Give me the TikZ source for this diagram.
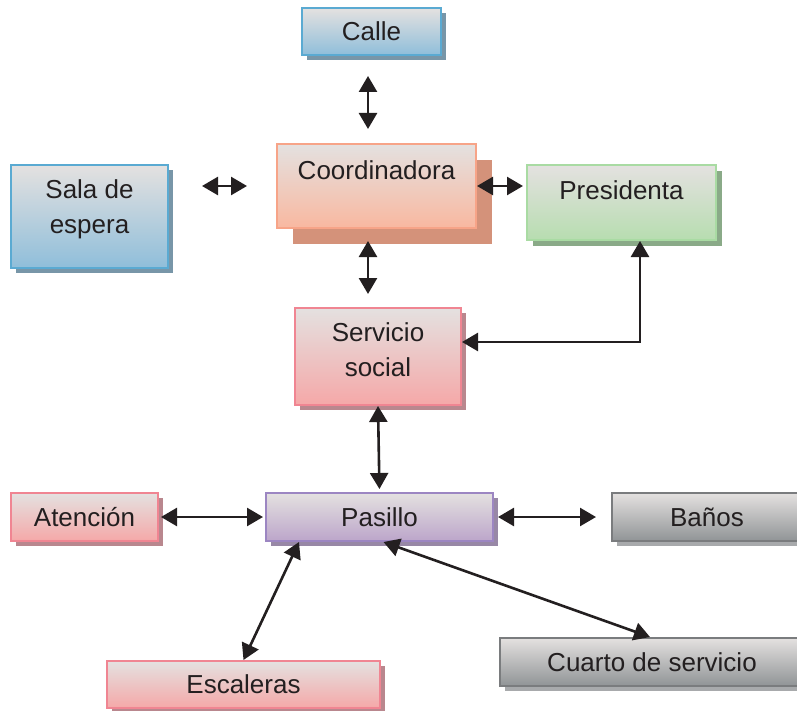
\documentclass[tikz,border=0pt]{standalone}
\usepackage{fontspec}
\setmainfont{Liberation Sans}
\usepackage{tikz}
\usetikzlibrary{calc,shapes,positioning,shadows}
\usetikzlibrary{arrows.meta}
\tikzset{>={Triangle[width=9pt,length=8pt]}}

\definecolor{topgray}{HTML}{E4E1E0}
\definecolor{txt}{HTML}{231F20}
\definecolor{bluebd}{HTML}{5AAAD2}
\definecolor{bluebt}{HTML}{8FBEDA}
\definecolor{bluesh}{HTML}{7896A8}
\definecolor{orgbd}{HTML}{F7A488}
\definecolor{orgbt}{HTML}{F9B8A0}
\definecolor{orgsh}{HTML}{D4927A}
\definecolor{grnbd}{HTML}{A9DBA3}
\definecolor{grnbt}{HTML}{B7DDB0}
\definecolor{grnsh}{HTML}{8AAA88}
\definecolor{redbd}{HTML}{F08592}
\definecolor{redbt}{HTML}{F5A8A8}
\definecolor{redsh}{HTML}{B9878E}
\definecolor{purbd}{HTML}{9C86C2}
\definecolor{purbt}{HTML}{BCA5CA}
\definecolor{pursh}{HTML}{9888A6}
\definecolor{grybd}{HTML}{7A7C7E}
\definecolor{grybt}{HTML}{909496}
\definecolor{grysh}{HTML}{A8AAAC}

\begin{document}
\begin{tikzpicture}[x=0.5pt, y=-0.5pt]
          \tikzstyle{box} = [rectangle, line width=1pt, inner sep=0pt, align=center, text=txt, font=\fontsize{13}{17.5}\selectfont]
          \tikzstyle{bluebox} = [box, draw=bluebd, top color=topgray, bottom color=bluebt, drop shadow={shadow xshift=2.5pt, shadow yshift=-2.5pt, fill=bluesh, opacity=1}]
          \tikzstyle{orgbox} = [box, draw=orgbd, top color=topgray, bottom color=orgbt, drop shadow={shadow xshift=8pt, shadow yshift=-8pt, fill=orgsh, opacity=1}]
          \tikzstyle{grnbox} = [box, draw=grnbd, top color=topgray, bottom color=grnbt, drop shadow={shadow xshift=3pt, shadow yshift=-3pt, fill=grnsh, opacity=1}]
          \tikzstyle{redbox} = [box, draw=redbd, top color=topgray, bottom color=redbt, drop shadow={shadow xshift=2.5pt, shadow yshift=-2.5pt, fill=redsh, opacity=1}]
          \tikzstyle{purbox} = [box, draw=purbd, top color=topgray, bottom color=purbt, drop shadow={shadow xshift=2.5pt, shadow yshift=-2.5pt, fill=pursh, opacity=1}]
          \tikzstyle{grybox} = [box, draw=grybd, top color=topgray, bottom color=grybt, drop shadow={shadow xshift=2.5pt, shadow yshift=-2.5pt, fill=grysh, opacity=1}]
          \tikzstyle{link} = [<->, line width=1.3pt, txt]
          \useasboundingbox (0,0) rectangle (797,711);

          \node[bluebox, minimum width=69.5pt, minimum height=23.5pt] (calle) at (371.5, 31.5) {Calle};
          \node[bluebox, minimum width=78.5pt, minimum height=51.5pt] (sala) at (89.5, 216.5) {Sala de\\espera\\[-13.25pt]\strut};
          \node[orgbox, minimum width=99.5pt, minimum height=42pt] (coord) at (376.5, 186) {Coordinadora\\[-6.75pt]\strut};
          \node[grnbox, minimum width=94.5pt, minimum height=37.5pt, text depth=12.5pt] (pres) at (621.5, 202.5) {Presidenta};
          \node[redbox, minimum width=83pt, minimum height=48.5pt] (serv) at (378, 356.5) {Servicio\\social\\[-16.25pt]\strut};
          \node[redbox, minimum width=73.5pt, minimum height=24pt] (aten) at (84.5, 517) {Atenci\'on};
          \node[purbox, minimum width=113.5pt, minimum height=24pt] (pas) at (379.5, 517) {Pasillo};
          \node[grybox, minimum width=95pt, minimum height=24pt] (banos) at (707, 517) {Ba\~nos};
          \node[redbox, minimum width=136.5pt, minimum height=23.5pt] (esc) at (243.5, 684.5) {Escaleras};
          \node[grybox, minimum width=152pt, minimum height=24pt] (cuarto) at (652, 662) {Cuarto de servicio};

          \draw[link, shorten <=10pt, shorten >=7pt] ([xshift=-1.75pt]calle.south) -- ([xshift=-1.75pt]calle.south |- coord.north);
          \draw[link, shorten <=16.5pt, shorten >=14.5pt] (sala.east |- coord.west) -- (coord.west);
          \draw[link, shorten >=1.5pt] (coord.east) -- (coord.east -| pres.west);
          \draw[link, shorten <=6pt, shorten >=6.5pt] ([xshift=-4.25pt]coord.south) -- ([xshift=-4.25pt]coord.south |- serv.north);
          \draw[link] ([yshift=7.25pt]serv.east) -| ([xshift=9.25pt]pres.south);
          \draw[link, shorten >=1.5pt] (serv.south) -- (pas.north);
          \draw[link, shorten <=1pt, shorten >=1pt] (aten) -- (pas);
          \draw[link, shorten <=2pt, shorten >=7.5pt] (pas.east) -- (banos.west);
          \draw[link] ([xshift=17pt]pas.south west) -- (esc.north);
          \draw[link] ([xshift=2pt]pas.south) -- ([xshift=-1pt]cuarto.north);
        \end{tikzpicture}
\end{document}
